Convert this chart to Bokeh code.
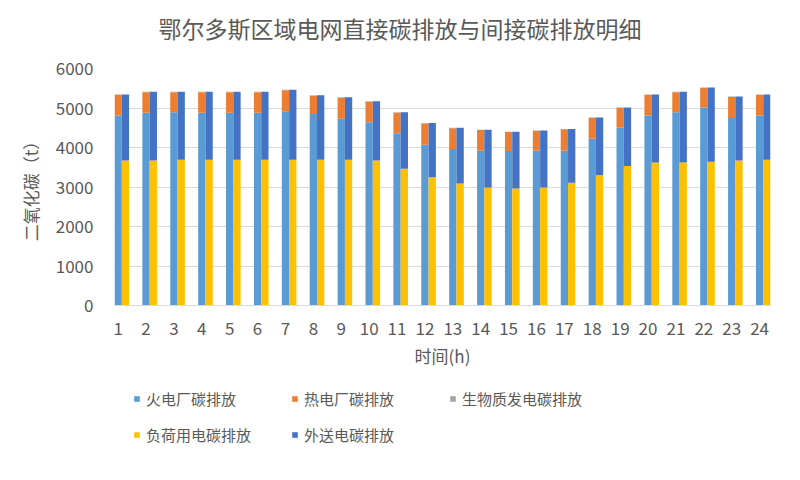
from bokeh.plotting import figure
from bokeh.layouts import column
from bokeh.models import (ColumnDataSource, Legend, LegendItem, FixedTicker, Title, Range1d)
from bokeh.transform import dodge
from bokeh.embed import file_html
from bokeh.resources import INLINE

hours = list(range(1, 25))
tick_labels = [str(h) for h in hours]

fire = [4810, 4880, 4890, 4880, 4880, 4880, 4920, 4850, 4730, 4640, 4360, 4070,
        3960, 3920, 3910, 3920, 3920, 4220, 4500, 4810, 4890, 5010, 4770, 4810]
heat = [520, 520, 510, 520, 520, 520, 530, 460, 530, 520, 520, 540,
        530, 520, 480, 500, 540, 530, 500, 520, 510, 500, 510, 520]
bio = [10] * 24
load = [3670, 3670, 3690, 3690, 3690, 3690, 3690, 3690, 3690, 3670, 3460, 3250,
        3090, 2990, 2960, 2990, 3110, 3300, 3530, 3620, 3620, 3640, 3670, 3690]
export = [1670, 1740, 1720, 1720, 1720, 1720, 1770, 1630, 1580, 1500, 1430, 1370,
          1410, 1460, 1440, 1440, 1360, 1460, 1480, 1720, 1790, 1880, 1620, 1650]

series = ["fire", "heat", "bio", "load", "export"]
names = ["火电厂碳排放", "热电厂碳排放", "生物质发电碳排放", "负荷用电碳排放", "外送电碳排放"]
colors = ["#5B9BD5", "#ED7D31", "#A5A5A5", "#FFC000", "#4472C4"]

FONT = "Noto Sans CJK SC"
GRAY = "#595959"

src = ColumnDataSource(dict(hour=hours, fire=fire, heat=heat, bio=bio, load=load, export=export))

p = figure(width=784, height=380, output_backend="svg", toolbar_location=None,
           frame_width=656, frame_height=237,
           x_range=Range1d(0.87, 24.39), y_range=Range1d(0, 6000))
p.min_border_left = 114
p.min_border_right = 14
p.min_border_top = 68
p.min_border_bottom = 75
p.outline_line_color = None
p.background_fill_color = "white"
p.border_fill_color = "white"

bw = 0.2616
p.vbar_stack(series[:3], x="hour", width=bw, source=src,
             color=colors[:3], line_color=None)
p.vbar_stack(series[3:], x=dodge("hour", bw, range=p.x_range), width=bw,
             source=src, color=colors[3:], line_color=None)

# axes
p.xaxis.ticker = FixedTicker(ticks=hours)
p.xaxis.major_label_overrides = {h: t for h, t in zip(hours, tick_labels)}
p.yaxis.ticker = FixedTicker(ticks=[0, 1000, 2000, 3000, 4000, 5000, 6000])
for ax in (p.xaxis[0], p.yaxis[0]):
    ax.major_tick_line_color = None
    ax.minor_tick_line_color = None
    ax.major_label_text_font = FONT
    ax.major_label_text_font_size = "17px"
    ax.major_label_text_color = GRAY
    ax.axis_label_text_font = FONT
    ax.axis_label_text_font_style = "normal"
    ax.axis_label_text_color = GRAY
p.yaxis.axis_line_color = None
p.xaxis.axis_line_color = "#D9D9D9"
p.yaxis.major_label_standoff = 15
p.xaxis.major_label_standoff = 10
p.yaxis.axis_label = "二氧化碳（t）"
p.yaxis.axis_label_text_font_size = "17px"
p.yaxis.axis_label_standoff = 10
p.xaxis.axis_label = "时间(h)"
p.xaxis.axis_label_text_font_size = "17px"
p.xaxis.axis_label_standoff = 5

p.xgrid.grid_line_color = None
p.ygrid.grid_line_color = "#D9D9D9"

# title (a blank spacer title sits between it and the frame)
spacer = Title(text=" ", text_font_size="16px", standoff=0)
p.add_layout(spacer, "above")
t = Title(text="鄂尔多斯区域电网直接碳排放与间接碳排放明细", align="left", offset=44,
          text_font=FONT, text_font_size="23px", text_font_style="normal",
          text_color=GRAY)
p.add_layout(t, "above")

# legend strip (separate figure so the legend is not clipped)
lf = figure(width=784, height=84, output_backend="svg", toolbar_location=None,
            x_range=Range1d(0, 1), y_range=Range1d(0, 1),
            x_axis_type=None, y_axis_type=None)
lf.min_border = 0
lf.outline_line_color = None
lf.border_fill_color = "white"
lf.background_fill_color = "white"
lrs = [lf.vbar(x="hour", top=s, source=src, width=bw, color=c, line_color=None, visible=False)
       for s, c in zip(series, colors)]
items = [LegendItem(label=n, renderers=[r]) for n, r in zip(names, lrs)]
lg = Legend(items=items, location=(19, 19), orientation="horizontal", ncols=3,
            glyph_width=7, glyph_height=7, label_standoff=6, label_width=130,
            label_height=20, padding=0, margin=0, spacing=15,
            label_text_font=FONT, label_text_font_size="15px",
            label_text_color=GRAY, border_line_color=None,
            background_fill_alpha=0)
lf.add_layout(lg, "center")

open("out.html", "w").write(file_html(column(p, lf), INLINE))
